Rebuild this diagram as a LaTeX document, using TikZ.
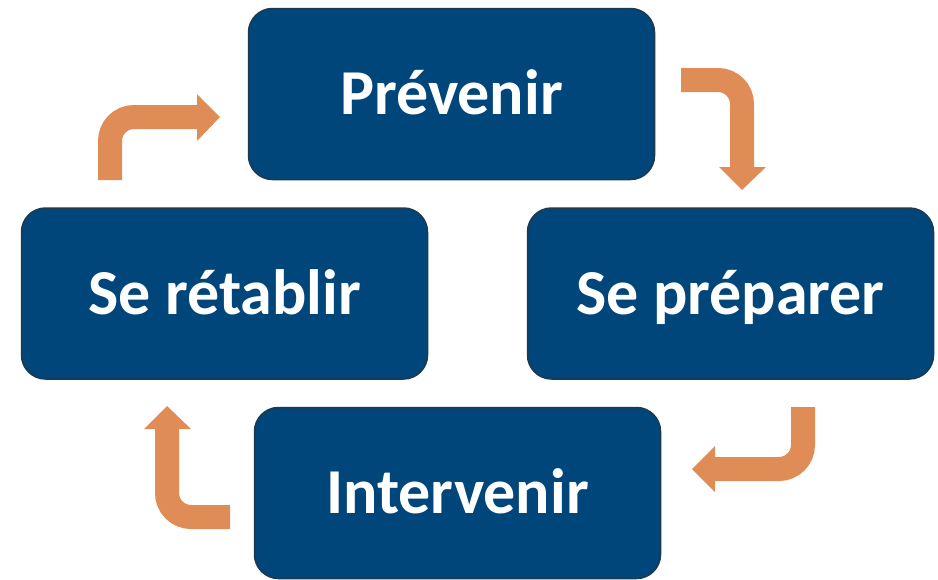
\documentclass[tikz,border=0pt]{standalone}
\usepackage{fontspec}
\setmainfont{Carlito}
\definecolor{navy}{HTML}{00467A}
\definecolor{navyedge}{HTML}{1B3A50}
\definecolor{orng}{HTML}{DF8C56}
\begin{document}
\begin{tikzpicture}[x=1pt,y=-1pt,
  stagebox/.style={draw=navyedge, line width=1.5pt, fill=navy, rounded corners=24pt,
    minimum width=406pt, minimum height=171pt, inner sep=0pt,
    text=white, font=\fontsize{64}{72}\selectfont\bfseries,
    text height=41pt, text depth=0pt},
  shaft/.style={draw=orng, line width=24pt, rounded corners=24pt},
  head/.style={fill=orng}]
\useasboundingbox (0,0) rectangle (938,579);
\node[stagebox] (prev) at (451.5,94) {Prévenir};
\node[stagebox] (retab) at (224.5,293.5) {Se rétablir};
\node[stagebox] (prep) at (730.5,293.5) {Se préparer};
\node[stagebox] (interv) at (457.5,493) {Intervenir};
% arrow 1: retablir -> prevenir
\coordinate (a1s) at (110,180);
\coordinate (a1c) at (110,117);
\coordinate (a1e) at (198,117);
\draw[shaft] (a1s) -- (a1c) -- (a1e);
\fill[head] (197,94) -- (220,117) -- (197,141) -- cycle;
% arrow 2: prevenir -> preparer
\coordinate (a2s) at (681,80);
\coordinate (a2c) at (742,80);
\coordinate (a2e) at (742,168);
\draw[shaft] (a2s) -- (a2c) -- (a2e);
\fill[head] (719,167) -- (742,190) -- (766,167) -- cycle;
% arrow 3: preparer -> intervenir
\coordinate (a3s) at (803,407);
\coordinate (a3c) at (803,469);
\coordinate (a3e) at (714,469);
\draw[shaft] (a3s) -- (a3c) -- (a3e);
\fill[head] (715,446) -- (692,469) -- (715,492) -- cycle;
% arrow 4: intervenir -> retablir
\coordinate (a4s) at (230,517);
\coordinate (a4c) at (167,517);
\coordinate (a4e) at (167,428);
\draw[shaft] (a4s) -- (a4c) -- (a4e);
\fill[head] (144,429) -- (167,406) -- (191,429) -- cycle;
\end{tikzpicture}
\end{document}
